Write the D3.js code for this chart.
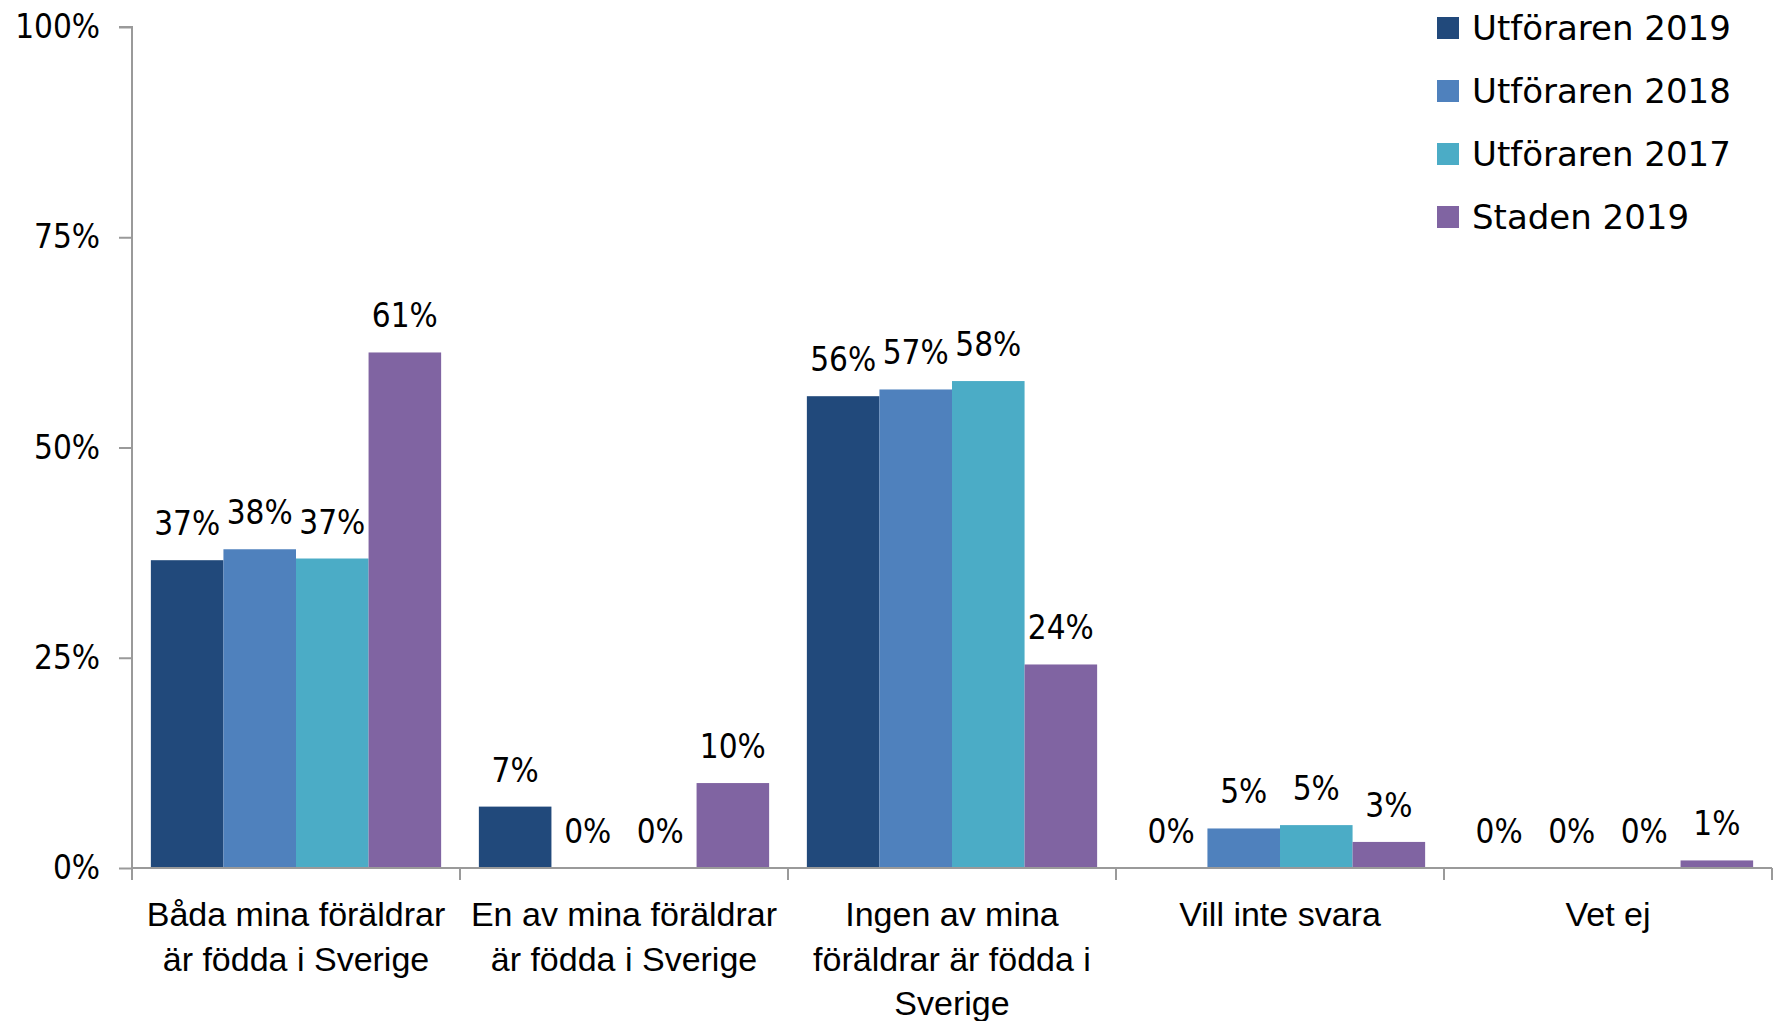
<!DOCTYPE html>
<html>
<head>
<meta charset="utf-8">
<script src="https://cdn.jsdelivr.net/npm/d3@7"></script>
<style>
  body { margin: 0; background: #fff; }
  svg { display: block; }
  .axis path, .axis line { stroke: #9a9a9a; stroke-width: 2px; }
  .axis text { font-family: "DejaVu Sans Condensed", "DejaVu Sans", sans-serif; font-size: 33px; fill: #000; }
</style>
</head>
<body>
<script>
const categories = [
  'Båda mina föräldrar\när födda i Sverige',
  'En av mina föräldrar\när födda i Sverige',
  'Ingen av mina\nföräldrar är födda i\nSverige',
  'Vill inte svara',
  'Vet ej'
];
const seriesNames = ['Utföraren 2019', 'Utföraren 2018', 'Utföraren 2017', 'Staden 2019'];
const colors = ['#21497b', '#4f81bd', '#4bacc6', '#8064a2'];

const utforaren2019 = [36.6, 7.3, 56.1, 0, 0];
const utforaren2018 = [37.9, 0, 56.9, 4.7, 0];
const utforaren2017 = [36.8, 0, 57.9, 5.1, 0];
const staden2019 = [61.3, 10.1, 24.2, 3.1, 0.9];

const yTicks = [0, 25, 50, 75, 100];

const series = [utforaren2019, utforaren2018, utforaren2017, staden2019];

const width = 1781;
const height = 1021;
const margin = {left: 132, right: 9, top: 27, bottom: 153};

const svg = d3.select('body').append('svg').attr('width', width).attr('height', height);

const x0 = d3.scaleBand()
  .domain(categories)
  .range([margin.left, width - margin.right]);

const x1 = d3.scaleBand()
  .domain(seriesNames)
  .range([0, x0.bandwidth()])
  .paddingOuter(0.26);

const y = d3.scaleLinear()
  .domain([0, 100])
  .range([height - margin.bottom, margin.top]);

// y axis
const yAxis = d3.axisLeft(y).tickValues(yTicks).tickSize(13).tickPadding(19).tickFormat(d => d + '%');
svg.append('g')
  .attr('class', 'axis y')
  .attr('transform', `translate(${margin.left},0)`)
  .call(yAxis)
  .call(g => g.select('.domain').attr('d', `M-13,${y(100)}H0V${y(0)}`));

// bars
const groups = svg.append('g').selectAll('g')
  .data(categories)
  .join('g')
  .attr('transform', d => `translate(${x0(d)},0)`);

groups.selectAll('rect')
  .data((d, i) => seriesNames.map((s, j) => ({s, v: series[j][i]})))
  .join('rect')
  .attr('x', d => x1(d.s))
  .attr('width', x1.bandwidth())
  .attr('y', d => y(d.v))
  .attr('height', d => y(0) - y(d.v))
  .attr('fill', (d, j) => colors[j]);

groups.selectAll('text')
  .data((d, i) => seriesNames.map((s, j) => ({s, v: series[j][i]})))
  .join('text')
  .attr('x', d => x1(d.s) + x1.bandwidth() / 2)
  .attr('y', d => y(d.v) - 25)
  .attr('text-anchor', 'middle')
  .style('font-family', '"DejaVu Sans Condensed", "DejaVu Sans", sans-serif')
  .style('font-size', '33px')
  .text(d => Math.round(d.v) + '%');

// x axis
const xAxisG = svg.append('g')
  .attr('class', 'axis x')
  .attr('transform', `translate(0,${y(0)})`);

xAxisG.append('path')
  .attr('class', 'domain')
  .attr('d', `M${x0.range()[0]},0H${x0.range()[1]}`);

xAxisG.selectAll('line')
  .data(categories.map(c => x0(c)).concat(x0.range()[1]))
  .join('line')
  .attr('x1', d => d).attr('x2', d => d)
  .attr('y1', 0).attr('y2', 12);

const catLabels = xAxisG.selectAll('text')
  .data(categories)
  .join('text')
  .attr('text-anchor', 'middle')
  .attr('transform', d => `translate(${x0(d) + x0.bandwidth() / 2},58)`)
  .style('font-family', '"Liberation Sans", Arial, sans-serif')
  .style('font-size', '34px');

catLabels.selectAll('tspan')
  .data(d => d.split('\n'))
  .join('tspan')
  .attr('x', 0)
  .attr('y', (d, i) => i * 44.5)
  .text(d => d);

// legend
const legend = svg.append('g').attr('transform', 'translate(1437,28)');
const item = legend.selectAll('g')
  .data(seriesNames)
  .join('g')
  .attr('transform', (d, i) => `translate(0,${i * 63})`);

item.append('rect')
  .attr('x', 0).attr('y', -11)
  .attr('width', 22).attr('height', 22)
  .attr('fill', (d, i) => colors[i]);

item.append('text')
  .attr('x', 35).attr('y', 12)
  .style('font-family', '"DejaVu Sans", sans-serif')
  .style('font-size', '34px')
  .text(d => d);
</script>
</body>
</html>
